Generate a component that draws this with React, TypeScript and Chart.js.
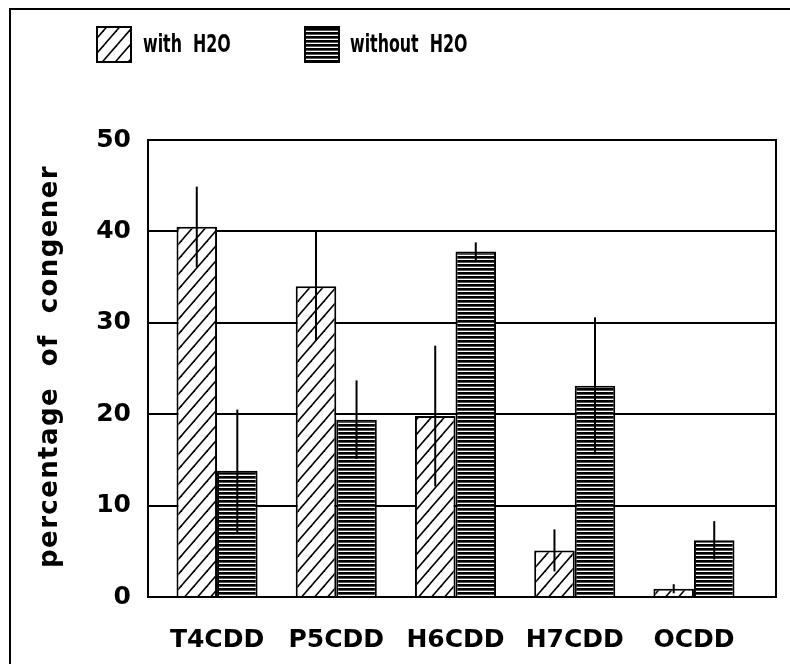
import React, { useEffect, useRef } from 'react';
import { Chart, registerables } from 'chart.js';

Chart.register(...registerables);

const categories = ['T4CDD', 'P5CDD', 'H6CDD', 'H7CDD', 'OCDD'];
const withH2O = [40.5, 34.0, 19.8, 5.1, 0.9];
const withH2OErr = [4.4, 6.0, 7.7, 2.3, 0.5];
const withoutH2O = [13.8, 19.4, 37.8, 23.1, 6.2];
const withoutH2OErr = [6.7, 4.3, 1.0, 7.5, 2.1];
const yTicks = [0, 10, 20, 30, 40, 50];
const seriesLabels = ['with  H2O', 'without  H2O'];
const yTitle = 'percentage  of  congener';

const TICK_FONT = { family: "'DejaVu Sans', sans-serif", size: 25, weight: 'bold' as const };

function makeHatch(): CanvasPattern {
  const W = 13, H = 15;
  const c = document.createElement('canvas');
  c.width = W; c.height = H;
  const g = c.getContext('2d')!;
  g.fillStyle = '#fff';
  g.fillRect(0, 0, W, H);
  g.strokeStyle = '#000';
  g.lineWidth = 1.6;
  for (const dx of [-W, 0, W]) {
    g.beginPath();
    g.moveTo(dx - 1, H + H / W);
    g.lineTo(dx + W + 1, -H / W);
    g.stroke();
  }
  return g.createPattern(c, 'repeat')!;
}

function makeStripes(): CanvasPattern {
  const c = document.createElement('canvas');
  c.width = 4; c.height = 4;
  const g = c.getContext('2d')!;
  g.fillStyle = '#fff';
  g.fillRect(0, 0, 4, 4);
  g.fillStyle = '#000';
  g.fillRect(0, 0, 4, 2);
  g.fillStyle = '#555';
  g.fillRect(0, 2, 4, 1);
  return g.createPattern(c, 'repeat')!;
}

export default function App() {
  const ref = useRef<HTMLCanvasElement | null>(null);

  useEffect(() => {
    const canvas = ref.current;
    if (!canvas) return;
    const hatch = makeHatch();
    const stripes = makeStripes();
    const errs = [withH2OErr, withoutH2OErr];

    const decorations = {
      id: 'decorations',
      afterDatasetsDraw(chart: any) {
        const ctx = chart.ctx;
        const ys = chart.scales.y;
        ctx.save();
        ctx.strokeStyle = '#000';
        ctx.lineWidth = 2;
        errs.forEach((e, di) => {
          const meta = chart.getDatasetMeta(di);
          meta.data.forEach((el: any, i: number) => {
            const v = chart.data.datasets[di].data[i].y;
            ctx.beginPath();
            ctx.moveTo(el.x, ys.getPixelForValue(v + e[i]));
            ctx.lineTo(el.x, ys.getPixelForValue(Math.max(0, v - e[i])));
            ctx.stroke();
          });
        });
        ctx.restore();
      },
      afterDraw(chart: any) {
        const ctx = chart.ctx;
        const a = chart.chartArea;
        ctx.save();
        // plot frame
        ctx.strokeStyle = '#000';
        ctx.lineWidth = 2;
        ctx.strokeRect(a.left, a.top, a.right - a.left, a.bottom - a.top);
        // outer frame (top + left)
        ctx.beginPath();
        ctx.moveTo(10, 664);
        ctx.lineTo(10, 9);
        ctx.lineTo(790, 9);
        ctx.stroke();
        // legend
        const boxes = [
          { x: 97, text: 143, fill: hatch },
          { x: 305, text: 350, fill: stripes },
        ];
        boxes.forEach((b, i) => {
          ctx.fillStyle = b.fill;
          ctx.fillRect(b.x, 27, 34, 35);
          ctx.lineWidth = 2;
          ctx.strokeStyle = '#000';
          ctx.strokeRect(b.x, 27, 34, 35);
          ctx.save();
          ctx.translate(b.text, 46);
          ctx.scale(0.66, 1);
          ctx.fillStyle = '#000';
          ctx.font = "bold 24px 'DejaVu Sans', sans-serif";
          ctx.textAlign = 'left';
          ctx.textBaseline = 'middle';
          ctx.fillText(seriesLabels[i], 0, 0);
          ctx.restore();
        });
        // y title
        ctx.translate(50, (a.top + a.bottom) / 2 - 2);
        ctx.rotate(-Math.PI / 2);
        ctx.font = "bold 26px 'DejaVu Sans', sans-serif";
        (ctx as any).letterSpacing = '1.4px';
        ctx.textAlign = 'center';
        ctx.textBaseline = 'middle';
        ctx.fillStyle = '#000';
        ctx.fillText(yTitle, 0, 0);
        ctx.restore();
      },
    };

    const chart = new Chart(canvas, {
      type: 'bar',
      data: {
        datasets: [
          {
            label: seriesLabels[0],
            data: categories.map((_, i) => ({ x: i, y: withH2O[i] })) as any,
            backgroundColor: hatch as any,
            borderColor: '#000',
            borderWidth: 2,
          },
          {
            label: seriesLabels[1],
            data: categories.map((_, i) => ({ x: i, y: withoutH2O[i] })) as any,
            backgroundColor: stripes as any,
            borderColor: '#000',
            borderWidth: 2,
          },
        ],
      },
      options: {
        animation: false,
        responsive: false,
        categoryPercentage: 0.68,
        barPercentage: 1.0,
        layout: { padding: { left: 0, right: 14, top: 140, bottom: 0 } },
        plugins: {
          legend: { display: false },
          tooltip: { enabled: false },
        },
        scales: {
          x: {
            type: 'linear',
            offset: false,
            min: -0.579,
            max: 4.688,
            grid: { display: false, drawTicks: false, offset: false },
            border: { display: false },
            afterBuildTicks: (axis: any) => {
              axis.ticks = categories.map((_, i) => ({ value: i }));
            },
            afterFit: (axis: any) => {
              axis.height = 67;
            },
            ticks: {
              autoSkip: false,
              maxRotation: 0,
              padding: 28,
              color: '#000',
              font: TICK_FONT,
              callback: (v: any) => categories[v] ?? '',
            },
          },
          y: {
            min: yTicks[0],
            max: yTicks[yTicks.length - 1],
            z: 1,
            grid: { color: '#000', lineWidth: 2, drawTicks: false },
            border: { display: false },
            afterBuildTicks: (axis: any) => {
              axis.ticks = yTicks.map((v) => ({ value: v }));
            },
            afterFit: (axis: any) => {
              axis.width = 148;
            },
            ticks: {
              padding: 17,
              color: '#000',
              font: TICK_FONT,
            },
          },
        },
      } as any,
      plugins: [decorations],
    });

    return () => chart.destroy();
  }, []);

  return (
    <div style={{ position: 'fixed', left: 0, top: 0, width: 790, height: 664, background: '#fff' }}>
      <canvas ref={ref} width={790} height={664} />
    </div>
  );
}
